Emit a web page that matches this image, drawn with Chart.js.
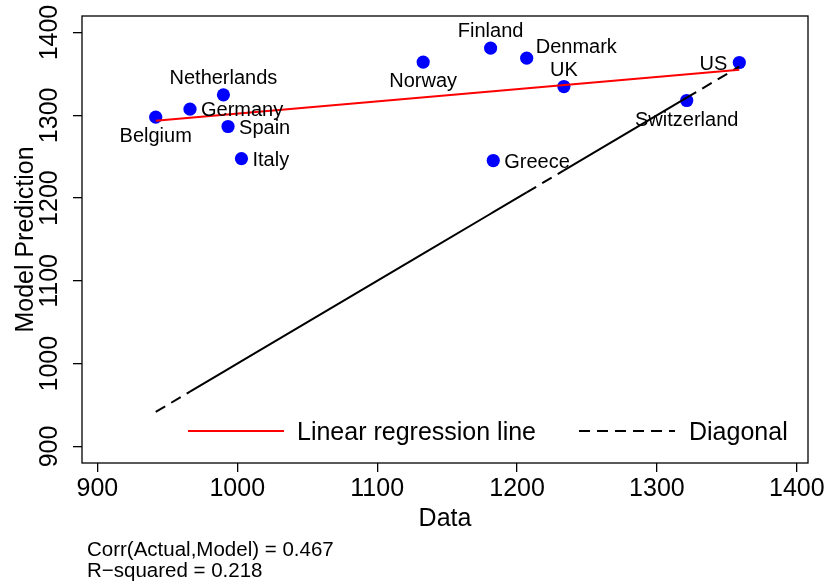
<!DOCTYPE html>
<html>
<head>
<meta charset="utf-8">
<script src="https://cdn.jsdelivr.net/npm/chart.js@4.4.1/dist/chart.umd.min.js"></script>
<style>
  html, body { margin: 0; padding: 0; background: #fff; }
  #wrap { width: 825px; height: 586px; }
</style>
</head>
<body>
<div id="wrap"><canvas id="myChart" width="825" height="586"></canvas></div>
<script>
// data
const countries = ['Belgium', 'Germany', 'Netherlands', 'Spain', 'Italy', 'Norway', 'Finland', 'Greece', 'Denmark', 'UK', 'Switzerland', 'US'];
const actual = [941.7, 966.2, 990.1, 993.4, 1003.0, 1132.9, 1181.1, 1183.0, 1206.9, 1233.5, 1321.3, 1358.9];
const predicted = [1297.8, 1307.5, 1324.8, 1286.5, 1247.8, 1364.3, 1381.2, 1245.4, 1369.1, 1334.8, 1317.9, 1363.8];

const regLineX = [941.7, 1358.9];
const regLineY = [1293.4, 1355.0];

const diagX = [941.7, 966.2, 990.1, 993.4, 1003.0, 1132.9, 1181.1, 1183.0, 1206.9, 1233.5, 1321.3, 1358.9];
const diagY = [941.7, 966.2, 990.1, 993.4, 1003.0, 1132.9, 1181.1, 1183.0, 1206.9, 1233.5, 1321.3, 1358.9];

const xTicks = [900, 1000, 1100, 1200, 1300, 1400];
const yTicks = [900, 1000, 1100, 1200, 1300, 1400];

const xTitle = 'Data';
const yTitle = 'Model Prediction';
const legendLabels = ['Linear regression line', 'Diagonal'];
const noteLines = ['Corr(Actual,Model) = 0.467', 'R\u2212squared = 0.218'];

// where each country name sits relative to its dot
const labelPos = {
  Belgium: 'below', Germany: 'right', Netherlands: 'above', Spain: 'right', Italy: 'right',
  Norway: 'below', Finland: 'above', Greece: 'right', Denmark: 'upright', UK: 'above',
  Switzerland: 'below', US: 'left',
};

const FONT = '"Liberation Sans", Arial, Helvetica, sans-serif';
const DASH = [11, 7];
const dashedSegs = [0, 8, 10];

const ctx = document.getElementById('myChart').getContext('2d');

const rDecor = {
  id: 'rDecor',
  afterDraw(chart) {
    const c = chart.ctx;
    const area = chart.chartArea;
    const xs = chart.scales.x;
    const ys = chart.scales.y;

    c.save();
    c.fillStyle = '#000';
    c.strokeStyle = '#000';

    // box
    c.lineWidth = 1.3;
    c.strokeRect(area.left, area.top, area.right - area.left, area.bottom - area.top);

    // tick labels
    c.font = '25px ' + FONT;
    c.textAlign = 'center';
    c.textBaseline = 'alphabetic';
    xTicks.forEach((v) => {
      c.fillText(String(v), xs.getPixelForValue(v), 496);
    });
    yTicks.forEach((v) => {
      c.save();
      c.translate(57, ys.getPixelForValue(v));
      c.rotate(-Math.PI / 2);
      c.fillText(String(v), 0, 0);
      c.restore();
    });

    // axis titles
    c.fillText(xTitle, (area.left + area.right) / 2, 526);
    c.save();
    c.translate(33, (area.top + area.bottom) / 2);
    c.rotate(-Math.PI / 2);
    c.fillText(yTitle, 0, 0);
    c.restore();

    // country names
    c.font = '20px ' + FONT;
    countries.forEach((name, i) => {
      const px = xs.getPixelForValue(actual[i]);
      const py = ys.getPixelForValue(predicted[i]);
      switch (labelPos[name]) {
        case 'below':
          c.textAlign = 'center';
          c.fillText(name, px, py + 25);
          break;
        case 'above':
          c.textAlign = 'center';
          c.fillText(name, px, py - 11);
          break;
        case 'right':
          c.textAlign = 'left';
          c.fillText(name, px + 11, py + 7);
          break;
        case 'left':
          c.textAlign = 'right';
          c.fillText(name, px - 12, py + 7);
          break;
        case 'upright':
          c.textAlign = 'left';
          c.fillText(name, px + 9, py - 5);
          break;
      }
    });

    // legend
    const ly = 431;
    c.lineWidth = 2;
    c.strokeStyle = '#FF0000';
    c.beginPath();
    c.moveTo(188, ly);
    c.lineTo(284, ly);
    c.stroke();
    c.strokeStyle = '#000';
    c.setLineDash(DASH);
    c.beginPath();
    c.moveTo(579, ly);
    c.lineTo(675, ly);
    c.stroke();
    c.setLineDash([]);
    c.font = '25px ' + FONT;
    c.textAlign = 'left';
    c.fillText(legendLabels[0], 297, ly + 9);
    c.fillText(legendLabels[1], 689, ly + 9);

    // note under the plot
    c.font = '20.5px ' + FONT;
    c.fillText(noteLines[0], 87, 556);
    c.fillText(noteLines[1], 87, 577);

    c.restore();
  },
};

const myChart = new Chart(ctx, {
  type: 'scatter',
  data: {
    datasets: [
      {
        label: legendLabels[0],
        data: regLineX.map((x, i) => ({ x, y: regLineY[i] })),
        showLine: true,
        borderColor: '#FF0000',
        borderWidth: 2,
        pointRadius: 0,
        order: 0,
      },
      {
        label: legendLabels[1],
        data: diagX.map((x, i) => ({ x, y: diagY[i] })),
        showLine: true,
        borderColor: '#000000',
        borderWidth: 2,
        pointRadius: 0,
        segment: {
          borderDash: (s) => (dashedSegs.includes(s.p0DataIndex) ? DASH : undefined),
        },
        order: 1,
      },
      {
        label: 'Countries',
        data: actual.map((x, i) => ({ x, y: predicted[i] })),
        backgroundColor: '#0000FF',
        borderWidth: 0,
        pointRadius: 6.6,
        order: 2,
      },
    ],
  },
  options: {
    responsive: false,
    animation: false,
    layout: { padding: { left: 0, top: 16, right: 17, bottom: 0 } },
    plugins: {
      legend: { display: false },
      tooltip: { enabled: false },
    },
    scales: {
      x: {
        type: 'linear',
        min: 889,
        max: 1408,
        afterBuildTicks: (scale) => { scale.ticks = xTicks.map((v) => ({ value: v })); },
        afterFit: (scale) => { scale.height = 123; },
        ticks: { display: false },
        border: { display: false },
        grid: {
          display: true, drawOnChartArea: false, drawTicks: true, tickLength: 9, color: '#000', lineWidth: 1.3,
        },
      },
      y: {
        type: 'linear',
        min: 880,
        max: 1420,
        afterBuildTicks: (scale) => { scale.ticks = yTicks.map((v) => ({ value: v })); },
        afterFit: (scale) => { scale.width = 82; },
        ticks: { display: false },
        border: { display: false },
        grid: {
          display: true, drawOnChartArea: false, drawTicks: true, tickLength: 9, color: '#000', lineWidth: 1.3,
        },
      },
    },
  },
  plugins: [rDecor],
});
</script>
</body>
</html>
